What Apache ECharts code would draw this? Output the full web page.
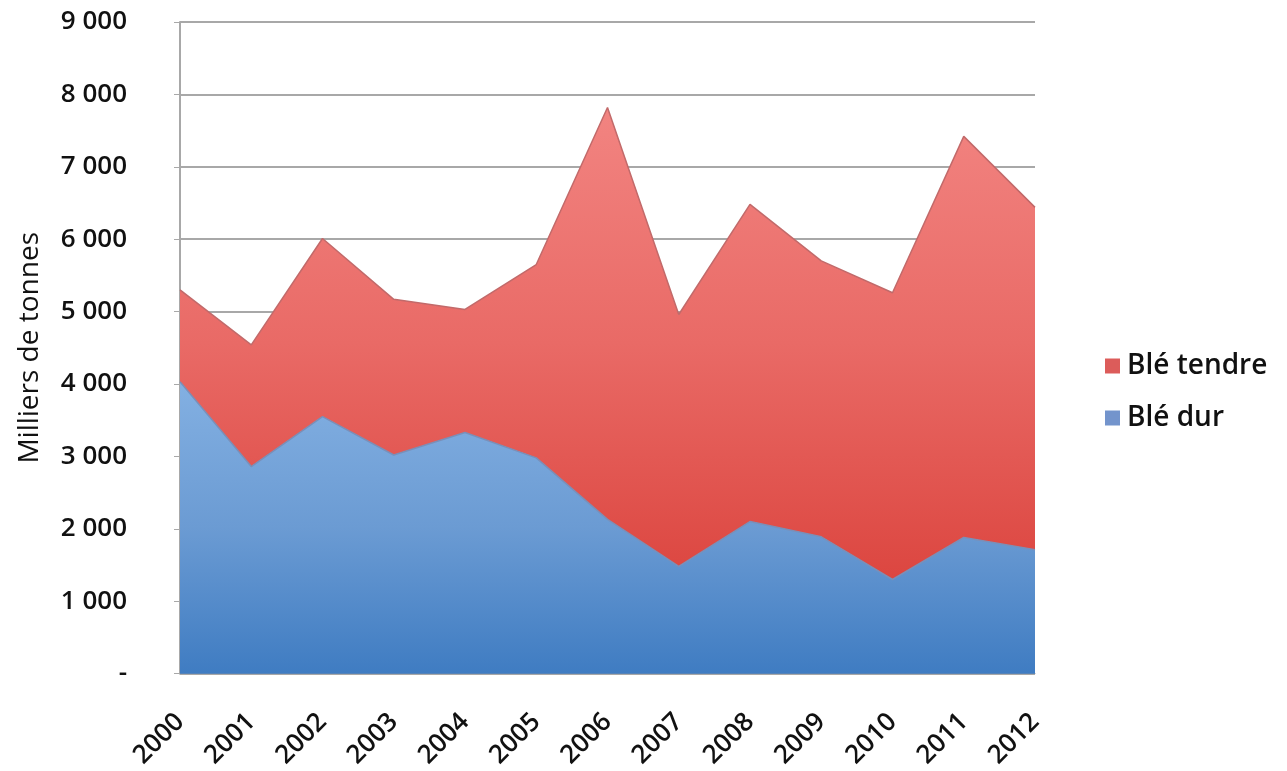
<!DOCTYPE html>
<html>
<head>
<meta charset="utf-8">
<script src="https://cdn.jsdelivr.net/npm/echarts@6/dist/echarts.min.js"></script>
<style>
html,body{margin:0;padding:0;background:#fff;}
#chart{width:1287px;height:771px;}
</style>
</head>
<body>
<div id="chart"></div>
<script>
const years = ['2000','2001','2002','2003','2004','2005','2006','2007','2008','2009','2010','2011','2012'];
const bleDur = [4030, 2860, 3550, 3020, 3330, 2980, 2130, 1480, 2100, 1890, 1300, 1880, 1710];
const bleTendre = [1270, 1680, 2460, 2150, 1700, 2670, 5690, 3480, 4380, 3810, 3960, 5540, 4730];
const yTickLabels = ['-', '1 000', '2 000', '3 000', '4 000', '5 000', '6 000', '7 000', '8 000', '9 000'];
const seriesNames = ['Blé tendre', 'Blé dur'];

const chart = echarts.init(document.getElementById('chart'), null, {renderer: 'canvas'});
const font = "'Open Sans', 'DejaVu Sans', sans-serif";
const option = {
  animation: false,
  backgroundColor: '#ffffff',
  grid: {left: 180, right: 252, top: 22, bottom: 97, containLabel: false},
  legend: {
    orient: 'vertical',
    left: 1100,
    top: 347,
    itemWidth: 15,
    itemHeight: 15,
    itemGap: 24,
    icon: 'rect',
    data: [
      {name: seriesNames[0], itemStyle: {color: '#dc5c5a'}},
      {name: seriesNames[1], itemStyle: {color: '#7394cc'}}
    ],
    textStyle: {fontFamily: font, fontSize: 28, fontWeight: 600, color: '#111', padding: [0, 0, 0, 2]}
  },
  xAxis: {
    type: 'category',
    data: years,
    boundaryGap: false,
    axisLine: {show: true, lineStyle: {color: '#9a9a9a', width: 1}},
    axisTick: {show: false},
    axisLabel: {
      rotate: 45, margin: 44, fontFamily: font, fontSize: 26, fontWeight: 600, color: '#111'
    },
    splitLine: {show: false}
  },
  yAxis: {
    type: 'value',
    min: 0, max: 9000, interval: 1000,
    name: 'Milliers de tonnes',
    nameLocation: 'middle',
    nameGap: 136,
    nameRotate: 90,
    nameTextStyle: {fontFamily: font, fontSize: 28, fontWeight: 400, color: '#111'},
    axisLine: {show: true, lineStyle: {color: '#a8a8a8', width: 2}},
    axisTick: {show: true, inside: false, length: 6, lineStyle: {color: '#a8a8a8'}},
    axisLabel: {
      margin: 53, fontFamily: font, fontSize: 26, fontWeight: 600, color: '#111',
      formatter: function (v) { return yTickLabels[Math.round(v / 1000)]; }
    },
    splitLine: {show: true, lineStyle: {color: '#a8a8a8', width: 2}}
  },
  series: [
    {
      name: seriesNames[1],
      type: 'line',
      stack: 'total',
      data: bleDur,
      symbol: 'none',
      lineStyle: {width: 1.5, color: '#7a8fb8'},
      areaStyle: {
        opacity: 1,
        color: new echarts.graphic.LinearGradient(0, 0, 0, 1, [
          {offset: 0, color: '#83b0e2'},
          {offset: 0.5, color: '#6b9bd3'},
          {offset: 1, color: '#3f7cc2'}
        ])
      },
      z: 3
    },
    {
      name: seriesNames[0],
      type: 'line',
      stack: 'total',
      data: bleTendre,
      symbol: 'none',
      lineStyle: {width: 1.5, color: '#c26a6a'},
      areaStyle: {
        opacity: 1,
        color: new echarts.graphic.LinearGradient(0, 0, 0, 1, [
          {offset: 0, color: '#f28481'},
          {offset: 0.5, color: '#e96a66'},
          {offset: 1, color: '#dc4640'}
        ])
      },
      z: 2
    }
  ]
};
chart.setOption(option);
</script>
</body>
</html>
